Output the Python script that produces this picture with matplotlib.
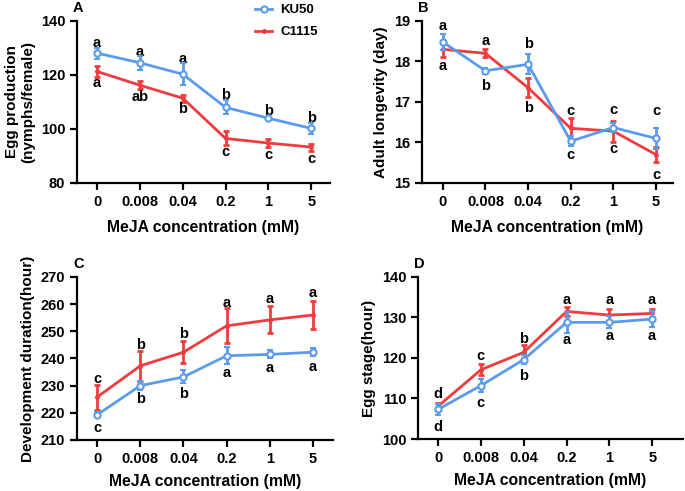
import matplotlib
matplotlib.use('Agg')
import matplotlib.pyplot as plt
from matplotlib.lines import Line2D

plt.rcParams['font.family'] = ['Liberation Sans', 'DejaVu Sans']
plt.rcParams['font.weight'] = 'bold'
plt.rcParams['font.size'] = 10

conc = ['0', '0.008', '0.04', '0.2', '1', '5']

# Panel A: egg production
egg_ku = [128.1, 124.5, 120.3, 108.0, 104.0, 100.2]
egg_ku_err = [2.0, 2.5, 4.0, 2.6, 0.6, 2.0]
egg_c = [121.3, 116.2, 111.4, 96.5, 94.8, 93.3]
egg_c_err = [2.0, 1.5, 1.3, 2.6, 1.6, 1.3]

# Panel B: adult longevity
lon_ku = [18.48, 17.77, 17.93, 16.03, 16.37, 16.1]
lon_ku_err = [0.2, 0.08, 0.25, 0.12, 0.12, 0.25]
lon_c = [18.3, 18.2, 17.35, 16.35, 16.28, 15.7]
lon_c_err = [0.2, 0.1, 0.23, 0.26, 0.26, 0.18]

# Panel C: development duration
dev_ku = [219.3, 230.0, 233.2, 241.0, 241.5, 242.3]
dev_ku_err = [1.0, 1.6, 2.4, 3.2, 1.5, 1.5]
dev_c = [225.8, 237.3, 242.3, 252.0, 254.2, 256.0]
dev_c_err = [4.6, 5.6, 4.0, 6.4, 5.0, 5.0]

# Panel D: egg stage
stg_ku = [107.3, 113.2, 119.6, 128.8, 128.8, 129.6]
stg_ku_err = [1.3, 1.6, 1.2, 2.6, 1.5, 2.0]
stg_c = [108.1, 117.1, 121.4, 131.5, 130.6, 131.0]
stg_c_err = [0.8, 1.3, 1.9, 1.2, 1.4, 1.0]

# significance letters: (x index, y position, letter)
letters_a = [(0, 131.8, 'a'), (1, 128.6, 'a'), (2, 126.0, 'a'), (3, 112.5, 'b'), (4, 106.8, 'b'), (5, 104.2, 'b'),
             (0, 117.0, 'a'), (1, 112.0, 'ab'), (2, 107.5, 'b'), (3, 91.5, 'c'), (4, 90.2, 'c'), (5, 88.8, 'c')]
letters_b = [(0, 18.88, 'a'), (1, 18.5, 'a'), (2, 18.42, 'b'), (3, 16.78, 'c'), (4, 16.8, 'c'), (5, 16.78, 'c'),
             (0, 17.9, 'a'), (1, 17.39, 'b'), (2, 16.85, 'b'), (3, 15.7, 'c'), (4, 15.85, 'c'), (5, 15.2, 'c')]
letters_c = [(0, 232.5, 'c'), (1, 245.0, 'b'), (2, 249.0, 'b'), (3, 260.5, 'a'), (4, 262.0, 'a'), (5, 264.0, 'a'),
             (0, 214.5, 'c'), (1, 225.0, 'b'), (2, 227.0, 'b'), (3, 234.5, 'a'), (4, 236.5, 'a'), (5, 237.0, 'a')]
letters_d = [(0, 111.0, 'd'), (1, 120.5, 'c'), (2, 124.8, 'b'), (3, 134.3, 'a'), (4, 134.3, 'a'), (5, 134.3, 'a'),
             (0, 103.0, 'd'), (1, 109.0, 'c'), (2, 115.5, 'b'), (3, 124.5, 'a'), (4, 125.5, 'a'), (5, 125.5, 'a')]

blue = '#5A9CEB'
red = '#EE3C3F'

fig = plt.figure(figsize=(6.85, 4.91), dpi=100)

panels = [
    ([0.1124, 0.6273, 0.3694, 0.330], 'A', egg_ku, egg_ku_err, egg_c, egg_c_err, letters_a,
     (80, 140), [80, 100, 120, 140], 'Egg production\n(nymphs/female)', (-0.47, 5.44), 8),
    ([0.6160, 0.6273, 0.3665, 0.330], 'B', lon_ku, lon_ku_err, lon_c, lon_c_err, letters_b,
     (15, 19), [15, 16, 17, 18, 19], 'Adult longevity (day)', (-0.49, 5.40), 8),
    ([0.1124, 0.1039, 0.3737, 0.332], 'C', dev_ku, dev_ku_err, dev_c, dev_c_err, letters_c,
     (210, 270), [210, 220, 230, 240, 250, 260, 270], 'Development duration(hour)', (-0.47, 5.47), 6),
    ([0.6102, 0.1059, 0.3869, 0.330], 'D', stg_ku, stg_ku_err, stg_c, stg_c_err, letters_d,
     (100, 140), [100, 110, 120, 130, 140], 'Egg stage(hour)', (-0.47, 5.72), 6),
]

x = list(range(len(conc)))
for rect, tag, ku, ku_err, c, c_err, lets, ylim, yticks, ylabel, xlim, xpad in panels:
    ax = fig.add_axes(rect)
    ax.errorbar(x, c, yerr=c_err, color=red, lw=2, marker='o', ms=2.5,
                capsize=2.5, capthick=2, elinewidth=2, zorder=3)
    ax.errorbar(x, ku, yerr=ku_err, color=blue, lw=2, marker='o', ms=4.5,
                mfc='white', mec=blue, mew=1.5, capsize=2.5, capthick=2, elinewidth=2,
                zorder=4)
    for i, yy, s in lets:
        ax.text(i, yy, s, ha='center', va='center', fontsize=10.5, fontweight='bold')
    ax.set_ylim(*ylim)
    ax.set_xlim(*xlim)
    ax.set_yticks(yticks)
    ax.set_xticks(x)
    ax.set_xticklabels(conc)
    ax.spines['top'].set_visible(False)
    ax.spines['right'].set_visible(False)
    ax.spines['left'].set_linewidth(1.6)
    ax.spines['bottom'].set_linewidth(1.6)
    ax.tick_params(width=1.6, length=5, labelsize=10.5)
    for t in ax.get_xticklabels() + ax.get_yticklabels():
        t.set_fontweight('bold')
    ax.set_ylabel(ylabel, fontsize=11, fontweight='bold', labelpad=4)
    ax.set_xlabel('MeJA concentration (mM)', fontsize=11.3, fontweight='bold', labelpad=xpad)
    ax.text(0.005, 1.035, tag, transform=ax.transAxes, ha='center', va='bottom',
            fontsize=10.5, fontweight='bold')

h = [Line2D([], [], color=blue, lw=2, marker='o', ms=4.5, mfc='white', mec=blue, mew=1.5),
     Line2D([], [], color=red, lw=2, marker='o', ms=2.5)]
fig.legend(h, ['KU50', 'C1115'], loc='upper left', bbox_to_anchor=(255 / 685, 1 - 4 / 491),
           frameon=False, fontsize=9.5, handlelength=1.3, handletextpad=0.6,
           labelspacing=0.75, borderpad=0, borderaxespad=0)

fig.savefig('out.png', dpi=100)
